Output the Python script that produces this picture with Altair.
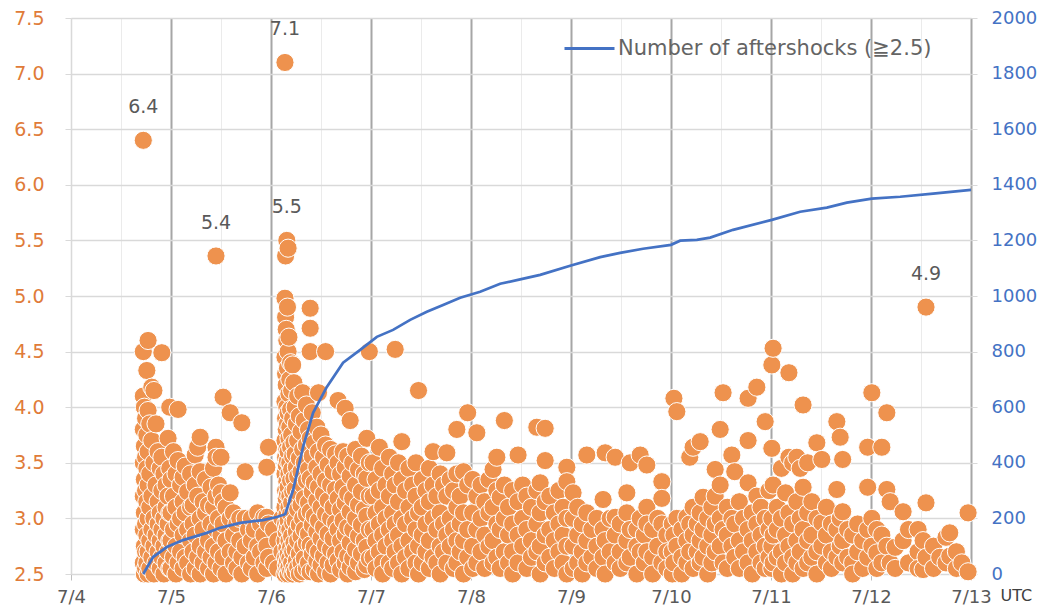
import altair as alt
import pandas as pd

# Hours after 2019-07-04 00:00 UTC, with the magnitudes read at that time
DAY_0704 = [
    (17.35, [6.4, 4.5, 4.1, 3.8, 3.5, 3.2, 2.9, 2.6]),
    (17.6, [4.0, 3.65, 3.35, 3.05, 2.75, 2.5]),
    (17.9, [3.9, 3.55, 3.25, 2.95, 2.7, 2.55]),
    (18.2, [4.33, 3.75, 3.45, 3.15, 2.85, 2.6]),
    (18.5, [4.6, 3.97, 3.6, 3.3, 3.0, 2.7, 2.5]),
    (18.9, [3.85, 3.4, 3.1, 2.8, 2.55]),
    (19.4, [4.18, 3.7, 3.2, 2.9, 2.65]),
    (19.9, [4.15, 3.5, 3.0, 2.75, 2.5]),
    (20.4, [3.85, 3.3, 2.85, 2.6]),
    (20.9, [3.6, 3.15, 2.95, 2.7]),
    (21.4, [3.45, 3.05, 2.8, 2.55]),
    (21.8, [4.49, 3.55, 3.25, 2.9, 2.65]),
    (22.3, [3.4, 3.0, 2.75, 2.5]),
    (22.8, [3.3, 3.1, 2.85, 2.6]),
    (23.3, [3.72, 3.2, 2.95, 2.7]),
    (23.7, [4.0, 3.45, 3.05, 2.8, 2.55]),
]

DAY_0705 = [
    (24.0, [3.35, 3.05, 2.8, 2.55]),
    (24.6, [3.6, 3.2, 2.9, 2.65]),
    (25.2, [3.4, 3.1, 2.75, 2.5]),
    (25.7, [3.98, 3.52, 2.95, 2.6]),
    (26.3, [3.3, 3.0, 2.7]),
    (26.9, [3.37, 3.15, 2.85, 2.55]),
    (27.4, [3.47, 3.05, 2.65]),
    (28.0, [3.24, 2.9, 2.6]),
    (28.7, [3.4, 3.1, 2.8, 2.5]),
    (29.3, [3.12, 2.95, 2.7]),
    (29.8, [3.57, 3.3, 2.85, 2.55]),
    (30.4, [3.64, 3.2, 2.65]),
    (31.0, [3.73, 3.42, 3.0, 2.75, 2.5]),
    (31.7, [3.15, 2.9, 2.6]),
    (32.3, [3.35, 3.05, 2.7]),
    (33.0, [3.12, 2.8, 2.55]),
    (33.6, [3.28, 2.95, 2.65]),
    (34.2, [3.45, 3.1, 2.75, 2.5]),
    (34.8, [5.36, 3.64, 3.55, 3.2, 2.9, 2.6]),
    (35.4, [3.3, 3.0, 2.7]),
    (36.0, [3.55, 3.23, 2.85, 2.55]),
    (36.5, [4.09, 3.15, 2.95, 2.65]),
    (37.2, [3.1, 2.8, 2.5]),
    (38.2, [3.95, 3.23, 3.0, 2.7]),
    (39.0, [3.05, 2.85, 2.6]),
    (39.8, [2.95, 2.7, 2.55]),
    (40.5, [3.0, 2.8]),
    (41.0, [3.86, 2.65, 2.5]),
    (41.8, [3.42, 3.0, 2.75]),
    (42.6, [2.9, 2.6]),
    (43.3, [3.0, 2.8, 2.55]),
    (44.0, [2.9, 2.65]),
    (44.8, [3.05, 2.75, 2.5]),
    (45.5, [2.95, 2.7]),
    (46.3, [3.01, 2.85, 2.6]),
    (47.0, [3.46, 3.01, 2.75, 2.55]),
    (47.4, [3.64, 2.95, 2.65]),
]

DAY_0706 = [
    (48.6, [2.9, 2.6]),
    (49.6, [2.8, 2.55]),
    (50.6, [3.0, 2.7]),
    (51.35, [7.1, 4.98, 4.45, 4.05, 3.7, 3.4, 3.1, 2.8, 2.5]),
    (51.5, [5.36, 4.81, 4.3, 3.9, 3.55, 3.25, 2.95, 2.65]),
    (51.65, [4.7, 4.2, 3.8, 3.48, 3.18, 2.88, 2.58]),
    (51.8, [5.5, 4.6, 4.0, 3.62, 3.33, 3.03, 2.73, 2.52]),
    (51.95, [4.9, 4.35, 3.85, 3.52, 3.22, 2.92, 2.62]),
    (52.1, [5.43, 4.5, 3.95, 3.6, 3.28, 2.98, 2.68, 2.5]),
    (52.3, [4.63, 4.12, 3.72, 3.4, 3.1, 2.8, 2.56]),
    (52.5, [4.25, 3.82, 3.5, 3.2, 2.9, 2.64]),
    (52.7, [4.4, 3.98, 3.64, 3.34, 3.04, 2.74, 2.52]),
    (52.95, [4.15, 3.75, 3.44, 3.14, 2.84, 2.6]),
    (53.2, [4.38, 3.9, 3.56, 3.24, 2.96, 2.7, 2.5]),
    (53.5, [4.22, 3.68, 3.36, 3.06, 2.78, 2.55]),
    (53.8, [4.0, 3.58, 3.26, 2.98, 2.72, 2.52]),
    (54.1, [3.85, 3.46, 3.16, 2.88, 2.62]),
    (54.4, [4.1, 3.7, 3.38, 3.08, 2.8, 2.56]),
    (54.8, [3.92, 3.54, 3.22, 2.94, 2.68, 2.5]),
    (55.2, [3.78, 3.42, 3.12, 2.84, 2.6]),
    (55.6, [4.13, 3.62, 3.3, 3.0, 2.74, 2.52]),
    (56.0, [3.88, 3.5, 3.18, 2.9, 2.64]),
    (56.5, [4.02, 3.66, 3.34, 3.04, 2.78, 2.55]),
    (57.0, [3.8, 3.44, 3.14, 2.86, 2.6]),
    (57.4, [4.89, 4.71, 4.5, 3.72, 3.36, 3.06, 2.76, 2.52]),
    (57.9, [3.95, 3.56, 3.24, 2.94, 2.68]),
    (58.4, [3.68, 3.32, 3.02, 2.74, 2.54]),
    (59.0, [3.82, 3.46, 3.16, 2.88, 2.62]),
    (59.4, [4.13, 3.6, 3.28, 2.98, 2.7, 2.5]),
    (60.0, [3.75, 3.4, 3.1, 2.82, 2.58]),
    (60.6, [3.55, 3.22, 2.92, 2.66]),
    (61.1, [4.5, 3.66, 3.34, 3.04, 2.76, 2.52]),
    (61.7, [3.48, 3.16, 2.86, 2.6]),
    (62.3, [3.62, 3.3, 3.0, 2.72, 2.5]),
    (62.9, [3.42, 3.1, 2.82, 2.58]),
    (63.5, [3.58, 3.26, 2.96, 2.68]),
    (64.1, [4.06, 3.5, 3.18, 2.9, 2.62]),
    (64.7, [3.4, 3.08, 2.8, 2.54]),
    (65.3, [3.6, 3.28, 2.98, 2.7]),
    (65.8, [3.99, 3.46, 3.14, 2.86, 2.6]),
    (66.4, [3.56, 3.22, 2.92, 2.66, 2.5]),
    (67.0, [3.88, 3.38, 3.06, 2.78, 2.56]),
    (67.6, [3.5, 3.18, 2.9, 2.64]),
    (68.3, [3.62, 3.3, 3.0, 2.72, 2.52]),
    (69.0, [3.44, 3.12, 2.84, 2.6]),
    (69.7, [3.56, 3.24, 2.94, 2.68]),
    (70.4, [3.4, 3.08, 2.8, 2.54]),
    (71.0, [3.72, 3.36, 3.02, 2.74, 2.58]),
    (71.6, [4.5, 3.5, 3.2, 2.9, 2.64]),
]

DAY_0707 = [
    (72.5, [3.5, 3.2, 2.9, 2.65]),
    (73.2, [3.35, 3.05, 2.8, 2.55]),
    (74.0, [3.64, 3.25, 2.95, 2.7]),
    (74.8, [3.45, 3.1, 2.85, 2.6, 2.5]),
    (75.6, [3.3, 3.0, 2.75]),
    (76.4, [3.55, 3.2, 2.9, 2.6]),
    (77.2, [3.4, 3.05, 2.8, 2.55]),
    (77.8, [4.52, 3.3, 2.95, 2.7]),
    (78.6, [3.5, 3.15, 2.85, 2.6]),
    (79.4, [3.69, 3.35, 3.0, 2.75, 2.5]),
    (80.3, [3.25, 2.95, 2.65]),
    (81.1, [3.45, 3.1, 2.8, 2.55]),
    (82.0, [3.3, 3.0, 2.7]),
    (82.8, [3.5, 3.2, 2.9, 2.6]),
    (83.4, [4.15, 3.05, 2.75, 2.5]),
    (84.3, [3.35, 3.1, 2.85, 2.6]),
    (85.2, [3.25, 2.95, 2.7]),
    (86.0, [3.45, 3.15, 2.8, 2.55]),
    (86.9, [3.6, 3.3, 3.0, 2.65]),
    (87.8, [3.2, 2.9, 2.6]),
    (88.6, [3.4, 3.05, 2.75, 2.5]),
    (89.4, [3.3, 2.95, 2.7]),
    (90.2, [3.59, 3.2, 2.85, 2.6]),
    (91.0, [3.35, 3.0, 2.75]),
    (91.8, [3.25, 2.9, 2.55]),
    (92.6, [3.8, 3.4, 3.1, 2.8, 2.6]),
    (93.4, [3.2, 2.95, 2.7]),
    (94.2, [3.42, 3.05, 2.8, 2.5]),
    (95.2, [3.95, 3.3, 2.9, 2.65]),
]

DAY_0708 = [
    (96.4, [3.35, 3.05, 2.75, 2.55]),
    (97.4, [3.77, 3.2, 2.9, 2.6]),
    (98.4, [3.3, 3.0, 2.7]),
    (99.3, [3.15, 2.85, 2.55]),
    (100.3, [3.35, 3.05, 2.75]),
    (101.3, [3.44, 3.1, 2.8, 2.6]),
    (102.2, [3.55, 3.25, 2.95, 2.65]),
    (103.0, [3.19, 2.9, 2.55]),
    (104.0, [3.88, 3.3, 3.0, 2.7]),
    (105.0, [3.1, 2.85, 2.6]),
    (106.0, [3.25, 2.95, 2.7, 2.5]),
    (107.3, [3.57, 3.15, 2.85, 2.6]),
    (108.4, [3.3, 3.0, 2.75]),
    (109.4, [3.2, 2.9, 2.55]),
    (110.5, [3.1, 2.8, 2.65]),
    (111.8, [3.82, 3.25, 2.95, 2.7]),
    (112.6, [3.32, 3.05, 2.75, 2.5]),
    (113.8, [3.81, 3.52, 3.15, 2.85, 2.6]),
    (114.9, [3.2, 2.9, 2.65]),
    (116.0, [3.05, 2.8, 2.55]),
    (117.1, [3.25, 2.95, 2.7]),
    (118.1, [3.1, 2.85, 2.6]),
    (119.0, [3.46, 3.33, 3.0, 2.75, 2.5]),
]

DAY_0709 = [
    (120.5, [3.23, 3.0, 2.75, 2.55]),
    (121.6, [3.1, 2.85, 2.6]),
    (122.7, [2.95, 2.7, 2.5]),
    (123.8, [3.57, 3.05, 2.8, 2.6]),
    (125.0, [2.9, 2.65]),
    (126.2, [3.0, 2.75, 2.55]),
    (127.7, [3.17, 2.9, 2.65]),
    (128.2, [3.59, 2.8, 2.5]),
    (129.4, [3.0, 2.7]),
    (130.6, [3.55, 3.01, 2.85, 2.6]),
    (131.8, [2.95, 2.7, 2.55]),
    (133.4, [3.23, 3.05, 2.8, 2.6]),
    (134.2, [3.5, 2.9, 2.65]),
    (135.8, [2.9, 2.75, 2.5]),
    (136.6, [3.57, 3.0, 2.7]),
    (137.6, [2.85, 2.6]),
    (138.2, [3.48, 3.1, 2.95, 2.7]),
    (139.6, [2.9, 2.65, 2.5]),
    (140.8, [3.0, 2.75]),
    (141.8, [3.33, 3.18, 2.95, 2.6]),
    (143.0, [2.85, 2.7, 2.55]),
]

DAY_0710 = [
    (144.3, [2.95, 2.7, 2.5]),
    (144.7, [4.08, 2.85, 2.6]),
    (145.4, [3.96, 3.0, 2.75]),
    (146.6, [2.9, 2.65, 2.5]),
    (147.8, [3.01, 2.8, 2.6]),
    (148.5, [3.55, 2.95, 2.7]),
    (149.3, [3.64, 3.1, 2.85, 2.55]),
    (150.3, [2.95, 2.7]),
    (151.0, [3.69, 3.05, 2.8, 2.6]),
    (151.7, [3.19, 2.9, 2.65]),
    (152.8, [3.0, 2.75, 2.5]),
    (153.8, [3.1, 2.85, 2.6]),
    (154.6, [3.44, 3.2, 2.95, 2.7]),
    (155.8, [3.8, 3.3, 3.0, 2.75]),
    (156.5, [4.13, 2.9, 2.6]),
    (157.5, [3.1, 2.85, 2.55]),
    (158.6, [3.57, 3.0, 2.75]),
    (159.3, [3.42, 2.95, 2.65]),
    (160.4, [3.15, 2.8, 2.55]),
    (161.4, [3.0, 2.7]),
    (162.5, [4.08, 3.7, 3.32, 2.9, 2.6]),
    (163.5, [3.05, 2.8, 2.5]),
    (164.6, [4.18, 3.2, 2.95, 2.7]),
    (165.6, [3.1, 2.85, 2.6]),
    (166.6, [3.87, 3.0, 2.75, 2.55]),
    (167.5, [3.25, 2.9, 2.65]),
]

DAY_0711 = [
    (168.2, [4.38, 3.63, 3.0, 2.75, 2.55]),
    (168.5, [4.53, 3.3, 2.85, 2.6]),
    (169.5, [3.1, 2.9, 2.65]),
    (170.5, [3.45, 3.0, 2.7, 2.5]),
    (171.5, [3.23, 2.85, 2.6]),
    (172.3, [4.31, 3.55, 3.05, 2.75]),
    (173.2, [3.5, 2.95, 2.65, 2.5]),
    (174.2, [3.55, 3.15, 2.8, 2.6]),
    (175.0, [3.45, 3.0, 2.7]),
    (175.7, [4.02, 3.28, 2.9, 2.55]),
    (176.8, [3.5, 3.05, 2.8, 2.6]),
    (177.8, [3.15, 2.85, 2.65]),
    (179.0, [3.68, 3.0, 2.7, 2.5]),
    (180.2, [3.53, 2.96, 2.75]),
    (181.3, [3.1, 2.85, 2.6]),
    (182.5, [2.95, 2.7, 2.55]),
    (183.8, [3.87, 3.26, 2.9, 2.65]),
    (184.6, [3.73, 3.0, 2.75]),
    (185.2, [3.53, 3.06, 2.8, 2.6]),
    (186.4, [2.9, 2.65]),
    (187.6, [2.85, 2.6, 2.5]),
    (188.8, [2.95, 2.7]),
    (190.0, [2.8, 2.55]),
    (191.2, [3.64, 3.28, 2.9, 2.65]),
]

DAY_0712 = [
    (192.2, [4.13, 3.0, 2.75]),
    (193.4, [2.9, 2.69, 2.55]),
    (194.6, [3.64, 2.85, 2.6]),
    (195.8, [3.95, 3.26, 2.75]),
    (196.6, [3.15, 2.6]),
    (197.8, [2.74, 2.55]),
    (199.7, [3.06, 2.8]),
    (201.0, [2.9, 2.6]),
    (203.3, [2.9, 2.7, 2.55]),
    (204.5, [2.8, 2.54]),
    (205.2, [4.9, 3.14, 2.65]),
    (207.0, [2.75, 2.55]),
    (208.5, [2.65]),
    (210.0, [2.83, 2.6]),
    (210.9, [2.87, 2.66]),
    (212.5, [2.7, 2.55]),
    (213.8, [2.6]),
    (215.3, [3.05, 2.52]),
]

# Cumulative number of aftershocks (M>=2.5), right axis
CUM_HOURS = [17.35, 19.7, 23.0, 26.9, 32.6, 35.8, 40.6, 46.1, 49.4, 51.4, 53.3,
             55.7, 58.1, 61.4, 65.3, 69.4, 73.4, 77.3, 81.4, 85.4, 89.3, 93.4,
             98.2, 103.0, 107.8, 112.6, 120.0, 127.0, 131.8, 137.3, 144.0, 146.2,
             150.2, 153.4, 158.9, 168.2, 175.0, 181.4, 186.2, 192.2, 199.0, 206.9, 216.0]
CUM_COUNTS = [0, 61, 97, 122, 148, 166, 184, 194, 205, 215, 302,
              457, 580, 673, 760, 806, 853, 878, 914, 943, 968, 994,
              1015, 1044, 1060, 1076, 1110, 1140, 1155, 1170, 1184, 1199,
              1202, 1210, 1238, 1274, 1303, 1318, 1336, 1350, 1357, 1368, 1382]

LABEL_HOURS = [17.35, 34.8, 51.35, 51.8, 205.2]
LABEL_MAGS = [6.4, 5.36, 7.1, 5.5, 4.9]
LABEL_TEXT = ["6.4", "5.4", "7.1", "5.5", "4.9"]

X_TICK_HOURS = [0, 6, 12, 18, 24, 30, 36, 42, 48, 54, 60, 66, 72, 78, 84, 90, 96,
                102, 108, 114, 120, 126, 132, 138, 144, 150, 156, 162, 168, 174,
                180, 186, 192, 198, 204, 210, 216]
Y_TICKS = [2.5, 3.0, 3.5, 4.0, 4.5, 5.0, 5.5, 6.0, 6.5, 7.0, 7.5]
Y2_TICKS = [0, 200, 400, 600, 800, 1000, 1200, 1400, 1600, 1800, 2000]
SERIES = "Number of aftershocks (≧2.5)"

FONT = "DejaVu Sans"
ORANGE = "#EE924E"
BLUE = "#4472C4"

rows = []
for day in [DAY_0704, DAY_0705, DAY_0706, DAY_0707, DAY_0708, DAY_0709,
            DAY_0710, DAY_0711, DAY_0712]:
    for h, mags in day:
        for m in mags:
            rows.append({"hour": h, "mag": m})
quakes = pd.DataFrame(rows)
cum = pd.DataFrame({"hour": CUM_HOURS, "count": CUM_COUNTS, "series": SERIES})
labels_df = pd.DataFrame({"hour": LABEL_HOURS, "mag": LABEL_MAGS, "text": LABEL_TEXT})

x_scale = alt.Scale(domain=[0, 216], nice=False, zero=False)
y_scale = alt.Scale(domain=[2.5, 7.5], nice=False, zero=False)

x_axis = alt.Axis(
    values=X_TICK_HOURS,
    labelExpr="datum.value % 24 === 0 ? '7/' + (4 + datum.value / 24) : ''",
    grid=True,
    gridColor={"condition": {"test": "datum.value > 0 && datum.value % 24 === 0", "value": "#a6a6a6"}, "value": "#ebebeb"},
    gridWidth={"condition": {"test": "datum.value % 24 === 0", "value": 2}, "value": 1},
    tickColor={"condition": {"test": "datum.value % 24 === 0", "value": "#bfbfbf"}, "value": "transparent"},
    tickSize=6, domain=False, labelFontSize=18, labelColor="#595959",
    labelPadding=8, labelFont=FONT, labelFlush=False, labelOverlap=False,
    title="UTC", titleX=929, titleY=21, titleAlign="left", titleBaseline="middle",
    titleFontSize=16, titleFontWeight="normal", titleColor="#404040", titleFont=FONT,
)

y_axis = alt.Axis(
    orient="left", values=Y_TICKS, format=".1f", grid=True, gridColor="#d9d9d9",
    gridWidth=1.5, domain=True, domainColor="#d9d9d9", tickColor="#d9d9d9", tickSize=6,
    labelFontSize=19, labelColor="#E07B39", labelPadding=21, labelFont=FONT, title=None,
)

y2_axis = alt.Axis(
    orient="right", values=Y2_TICKS, format="d", grid=False, domain=False,
    tickColor="#d9d9d9", tickSize=6, labelFontSize=18, labelColor=BLUE,
    labelPadding=14, labelFont=FONT, title=None,
)

points = alt.Chart(quakes).mark_circle(
    size=330, fill=ORANGE, opacity=1, fillOpacity=1, stroke="white", strokeWidth=1
).encode(
    x=alt.X("hour:Q", scale=x_scale, axis=x_axis),
    y=alt.Y("mag:Q", scale=y_scale, axis=y_axis),
)

line = alt.Chart(cum).mark_line(strokeWidth=2.7).encode(
    x=alt.X("hour:Q", scale=x_scale),
    y=alt.Y("count:Q", scale=alt.Scale(domain=[0, 2000], nice=False, zero=False), axis=y2_axis),
    color=alt.Color(
        "series:N",
        scale=alt.Scale(domain=[SERIES], range=[BLUE]),
        legend=alt.Legend(
            orient="none", legendX=492, legendY=4, title=None, symbolType="stroke",
            symbolSize=2500, symbolStrokeWidth=3, labelFontSize=21,
            labelColor="#646464", labelFont=FONT, labelOffset=2, padding=0, labelLimit=0,
        ),
    ),
)

labels = alt.Chart(labels_df).mark_text(
    dy=-33, fontSize=19, color="#595959", font=FONT, baseline="middle"
).encode(
    x=alt.X("hour:Q", scale=x_scale),
    y=alt.Y("mag:Q", scale=y_scale, axis=None),
    text="text:N",
)

chart = alt.layer(points, line, labels).resolve_scale(y="independent").properties(
    width=900, height=556,
    padding={"left": 63, "top": 10, "right": 67, "bottom": 31},
    autosize=alt.AutoSizeParams(type="none"),
    background="white",
).configure_view(stroke=None)

chart.save("out.html", embed_options={"renderer": "svg", "actions": False})
